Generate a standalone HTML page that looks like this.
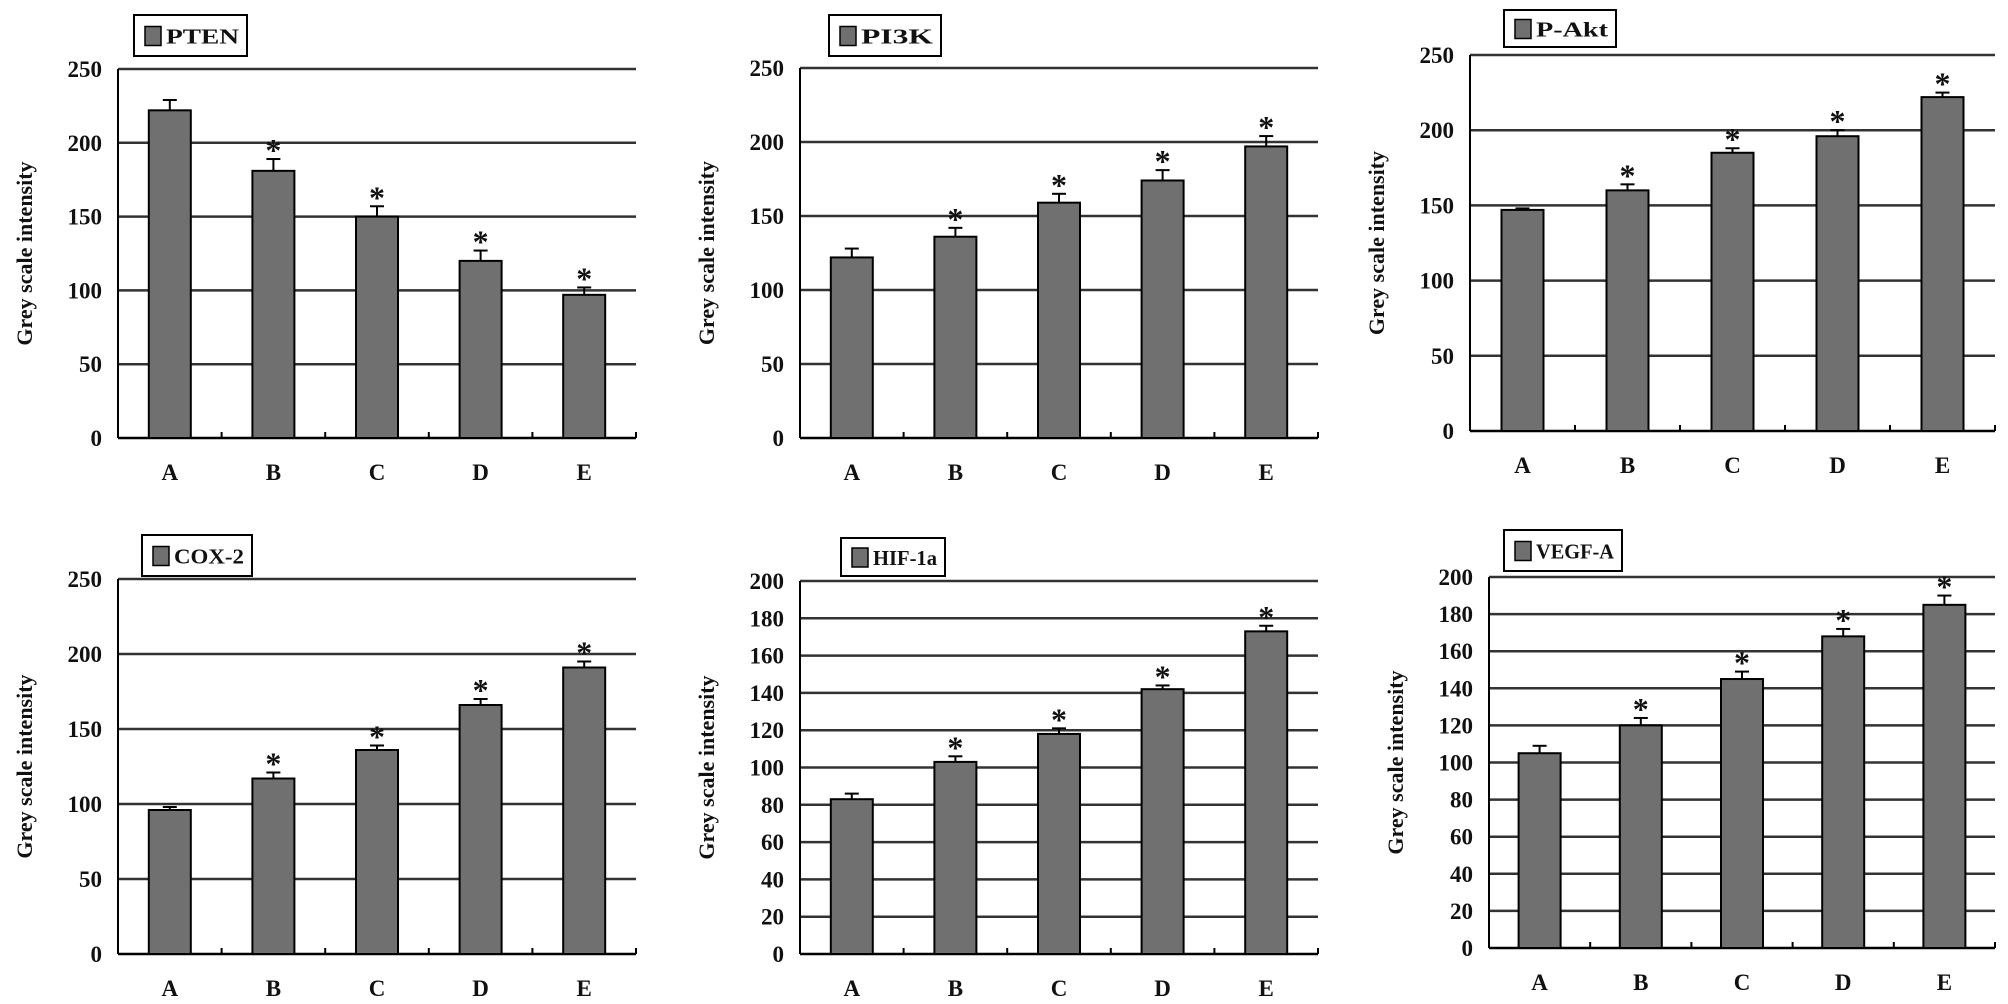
<!DOCTYPE html>
<html><head><meta charset="utf-8"><style>
body{margin:0;background:#fff;}
svg{display:block;}
text{font-family:"Liberation Serif",serif;font-weight:bold;fill:#111;}
</style></head><body>
<svg id="c" width="2008" height="1004"></svg>
<script>
const categories=["A","B","C","D","E"];
const ptenValues=[222,181,150,120,97];
const ptenErrors=[7,8,7,7,5];
const pi3kValues=[122,136,159,174,197];
const pi3kErrors=[6,6,6,7,7];
const aktValues=[147,160,185,196,222];
const aktErrors=[1,4,3,4,3];
const coxValues=[96,117,136,166,191];
const coxErrors=[2,4,3,4,4];
const hifValues=[83,103,118,142,173];
const hifErrors=[3,3,3,2,3];
const vegfValues=[105,120,145,168,185];
const vegfErrors=[4,4,4,4,5];
const ticks250=[0,50,100,150,200,250];
const ticks200=[0,20,40,60,80,100,120,140,160,180,200];
const stars=[false,true,true,true,true];

const panels=[
 {name:"pten",title:"PTEN",v:ptenValues,e:ptenErrors,t:ticks250,L:118,R:636,T:69,B:438,lx:134,ly:15,lw:113,lh:41},
 {name:"pi3k",title:"PI3K",v:pi3kValues,e:pi3kErrors,t:ticks250,L:800,R:1318,T:68,B:438,lx:829,ly:15,lw:112,lh:41},
 {name:"p-akt",title:"P-Akt",v:aktValues,e:aktErrors,t:ticks250,L:1470,R:1995,T:55,B:431,lx:1504,ly:10,lw:112,lh:37},
 {name:"cox-2",title:"COX-2",v:coxValues,e:coxErrors,t:ticks250,L:118,R:636,T:579,B:954,lx:142,ly:535,lw:110,lh:41},
 {name:"hif-1a",title:"HIF-1a",v:hifValues,e:hifErrors,t:ticks200,L:800,R:1318,T:581,B:954,lx:841,ly:538,lw:104,lh:38},
 {name:"vegf-a",title:"VEGF-A",v:vegfValues,e:vegfErrors,t:ticks200,L:1489,R:1995,T:577,B:948,lx:1504,ly:530,lw:118,lh:41}
];
const NS="http://www.w3.org/2000/svg";
const svg=document.getElementById('c');
function mk(tag,attrs,parent){const el=document.createElementNS(NS,tag);for(const k in attrs)el.setAttribute(k,attrs[k]);parent.appendChild(el);return el;}
panels.forEach(p=>{
 const g=mk('g',{},svg);
 
 
 const max=p.t[p.t.length-1];
 const y=v=>p.B-(v/max)*(p.B-p.T);
 const step=(p.R-p.L)/categories.length;
 const x=i=>p.L+step*(i+0.5);
 p.t.forEach(tv=>{
  if(tv>0){const gl=mk('line',{x1:p.L,x2:p.R,y1:y(tv),y2:y(tv),stroke:'#333','stroke-width':2.5},g);
   
   }
  const tl=mk('text',{x:p.L-16,y:y(tv)+8,'text-anchor':'end','font-size':23},g);
  tl.textContent=tv;
  
  
 });
 const ax=mk('line',{x1:p.L,x2:p.L,y1:p.T,y2:p.B,stroke:'#000','stroke-width':2},g);
 
 
 const bx=mk('line',{x1:p.L,x2:p.R,y1:p.B,y2:p.B,stroke:'#000','stroke-width':2.5},g);
 
 
 for(let i=1;i<=categories.length;i++){
  const tk=mk('line',{x1:p.L+step*i,x2:p.L+step*i,y1:p.B,y2:p.B-6,stroke:'#000','stroke-width':2},g);
  
  
 }
 const bw=42;
 categories.forEach((c,i)=>{
  const yt=y(p.v[i]);
  const ye=y(p.v[i]+p.e[i]);
  const el=mk('line',{x1:x(i),x2:x(i),y1:yt,y2:ye,stroke:'#000','stroke-width':2},g);
  
  
  const cap=mk('line',{x1:x(i)-7,x2:x(i)+7,y1:ye,y2:ye,stroke:'#000','stroke-width':2},g);
  
  
  const b=mk('rect',{x:x(i)-bw/2,y:yt,width:bw,height:p.B-yt,fill:'#707070',stroke:'#000','stroke-width':2},g);
  
  
  if(stars[i]){const s=mk('text',{x:x(i),y:ye+2,'text-anchor':'middle','font-size':32},g);
   s.textContent='*';
   
   }
  const cl=mk('text',{x:x(i),y:p.B+42,'text-anchor':'middle','font-size':23},g);
  cl.textContent=c;
  
  
 });
 const yt=mk('text',{x:0,y:0,'text-anchor':'middle','font-size':22,transform:`translate(${p.L-86},${(p.T+p.B)/2}) rotate(-90)`},g);
 yt.textContent='Grey scale intensity';
 
 
 const lg=mk('g',{},g);
 
 
 mk('rect',{x:p.lx,y:p.ly,width:p.lw,height:p.lh,fill:'#fff',stroke:'#000','stroke-width':2},lg);
 mk('rect',{x:p.lx+11,y:p.ly+p.lh/2-9,width:16,height:19,fill:'#707070',stroke:'#000','stroke-width':1.5},lg);
 const lt=mk('text',{x:p.lx+32,y:p.ly+p.lh/2+8,'font-size':21,textLength:p.lw-40,lengthAdjust:'spacingAndGlyphs'},lg);
 lt.textContent=p.title;
 
 
});
</script>
</body></html>
